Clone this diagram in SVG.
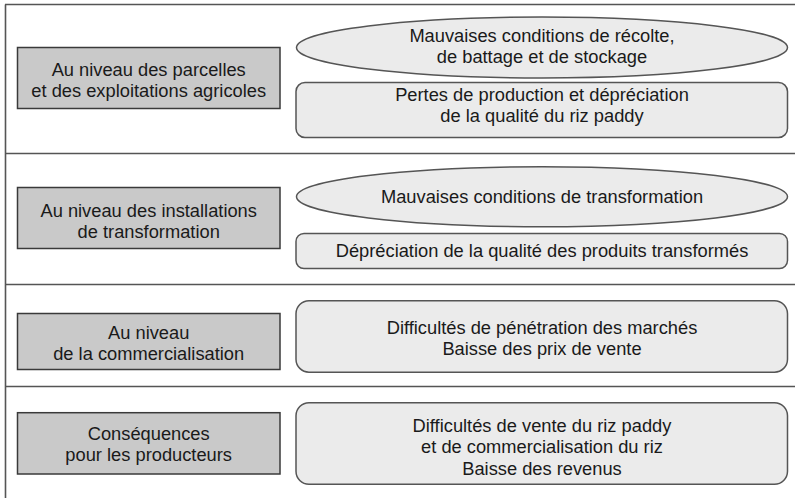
<svg xmlns="http://www.w3.org/2000/svg" width="795" height="498" viewBox="0 0 795 498">
<style>
.frame{stroke:#555;stroke-width:1.6;fill:none}
.cat{fill:#c9c9c9;stroke:#3a3a3a;stroke-width:1.5}
.item{fill:#ebebeb;stroke:#555;stroke-width:1.5}
text{font-family:"Liberation Sans",Arial,Helvetica,sans-serif;font-size:18.3px;fill:#1a1a1a;text-anchor:middle}
</style>
<rect width="795" height="498" fill="#fff"/>
<g id="frame">
<line class="frame" x1="5.5" y1="4.5" x2="5.5" y2="498"/>
<line class="frame" x1="5" y1="4.5" x2="795" y2="4.5"/>
<line class="frame" x1="5" y1="153.5" x2="795" y2="153.5"/>
<line class="frame" x1="5" y1="284.5" x2="795" y2="284.5"/>
<line class="frame" x1="5" y1="386.5" x2="795" y2="386.5"/>
</g>
<g id="cat1"><rect class="cat" x="17.5" y="47.5" width="262.5" height="61"/>
<text x="148.7" y="76">Au niveau des parcelles</text><text x="148.7" y="97">et des exploitations agricoles</text></g>
<g id="ell1"><ellipse class="item" cx="542" cy="47.5" rx="245.5" ry="30.5"/>
<text x="542" y="41.5">Mauvaises conditions de récolte,</text><text x="542" y="63">de battage et de stockage</text></g>
<g id="rect1"><rect class="item" x="296" y="82.5" width="491.5" height="55" rx="9"/>
<text x="542" y="100.5">Pertes de production et dépréciation</text><text x="542" y="121.5">de la qualité du riz paddy</text></g>
<g id="cat2"><rect class="cat" x="17.5" y="187.5" width="262.5" height="61"/>
<text x="148.7" y="216.5">Au niveau des installations</text><text x="148.7" y="237.5">de transformation</text></g>
<g id="ell2"><ellipse class="item" cx="542" cy="196.7" rx="245.5" ry="30"/>
<text x="542" y="203">Mauvaises conditions de transformation</text></g>
<g id="rect2"><rect class="item" x="296" y="233.5" width="491.5" height="35" rx="8"/>
<text x="542" y="257">Dépréciation de la qualité des produits transformés</text></g>
<g id="cat3"><rect class="cat" x="17.5" y="313.5" width="262.5" height="56"/>
<text x="148.7" y="339">Au niveau</text><text x="148.7" y="360">de la commercialisation</text></g>
<g id="rect3"><rect class="item" x="296" y="300.7" width="491.5" height="71.5" rx="13"/>
<text x="542" y="334">Difficultés de pénétration des marchés</text><text x="542" y="355">Baisse des prix de vente</text></g>
<g id="cat4"><rect class="cat" x="17.5" y="412.7" width="262.5" height="61.3"/>
<text x="148.7" y="440">Conséquences</text><text x="148.7" y="461">pour les producteurs</text></g>
<g id="rect4"><rect class="item" x="296" y="402.7" width="491.5" height="81.6" rx="13"/>
<text x="542" y="431.5">Difficultés de vente du riz paddy</text><text x="542" y="453">et de commercialisation du riz</text><text x="542" y="474.5">Baisse des revenus</text></g>
</svg>
